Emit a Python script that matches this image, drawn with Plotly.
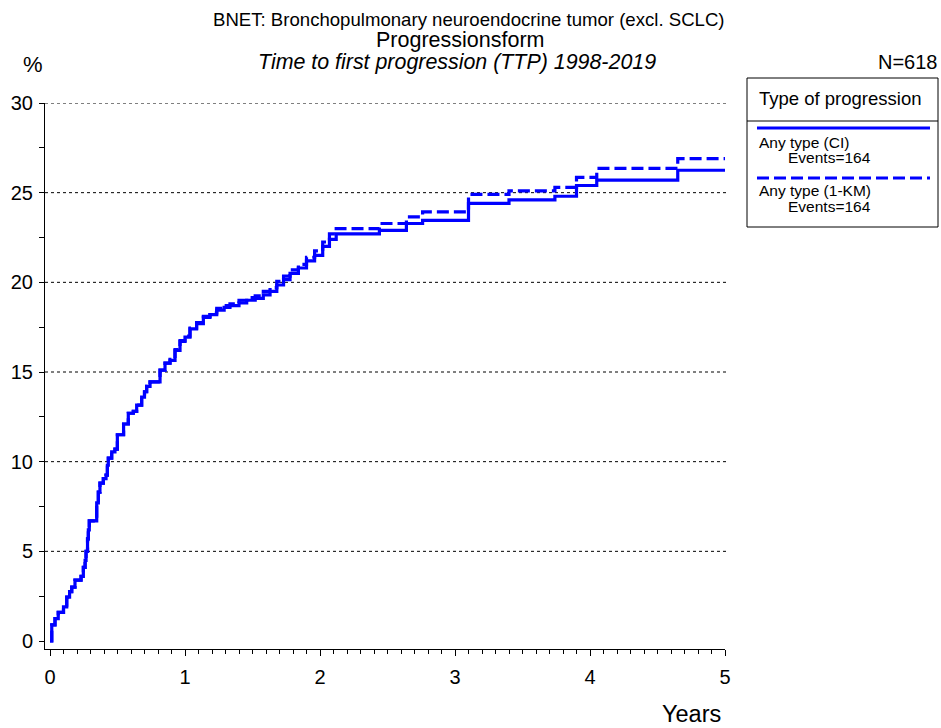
import plotly.graph_objects as go

# ---- data ----
years = [0, 0.013, 0.037, 0.061, 0.10, 0.124, 0.145, 0.161, 0.185, 0.230,
         0.247, 0.260, 0.267, 0.278, 0.284, 0.291, 0.346, 0.358, 0.370, 0.395,
         0.415, 0.425, 0.432, 0.457, 0.481, 0.499, 0.545, 0.580, 0.617, 0.642,
         0.679, 0.700, 0.716, 0.741, 0.815, 0.852, 0.889, 0.926, 0.963, 1.000,
         1.037, 1.086, 1.136, 1.185, 1.235, 1.290, 1.333, 1.400, 1.457, 1.520,
         1.580, 1.630, 1.680, 1.730, 1.778, 1.840, 1.900, 1.960, 2.020, 2.070,
         2.120, 2.440, 2.640, 2.760, 3.100, 3.400, 3.740, 3.900, 4.050, 4.650,
         5.0]
ci_pct = [0, 0.9, 1.25, 1.6, 1.9, 2.45, 2.75, 3.0, 3.4, 3.6,
          4.1, 4.5, 5.0, 5.7, 6.2, 6.7, 7.7, 8.3, 8.8, 9.05,
          9.25, 9.8, 10.2, 10.55, 10.7, 11.5, 12.1, 12.7, 12.8, 13.15,
          13.6, 13.9, 14.2, 14.45, 15.1, 15.5, 15.65, 16.2, 16.7, 16.95,
          17.4, 17.7, 18.05, 18.2, 18.45, 18.6, 18.7, 18.85, 19.0, 19.1,
          19.3, 19.5, 19.85, 20.15, 20.5, 20.8, 21.2, 21.5, 22.0, 22.4,
          22.7, 22.9, 23.28, 23.46, 24.4, 24.6, 24.8, 25.4, 25.7, 26.25,
          26.25]
km_pct = [0, 0.9, 1.25, 1.6, 1.9, 2.45, 2.75, 3.0, 3.4, 3.6,
          4.1, 4.5, 5.0, 5.7, 6.2, 6.7, 7.7, 8.3, 8.8, 9.05,
          9.25, 9.8, 10.2, 10.55, 10.7, 11.5, 12.1, 12.7, 12.8, 13.15,
          13.6, 13.9, 14.2, 14.45, 15.1, 15.5, 15.7, 16.25, 16.75, 17.0,
          17.45, 17.75, 18.1, 18.3, 18.55, 18.7, 18.8, 19.0, 19.15, 19.25,
          19.5, 19.7, 20.05, 20.35, 20.7, 21.0, 21.4, 21.75, 22.25, 22.7,
          23.0, 23.28, 23.65, 23.93, 24.9, 25.1, 25.3, 25.85, 26.35, 26.9,
          26.9]
series_names = ["Any type (CI)", "Any type (1-KM)"]
events = [164, 164]
x_ticks = [0, 1, 2, 3, 4, 5]
y_ticks = [0, 5, 10, 15, 20, 25, 30]
grid_values = [5, 10, 15, 20, 25, 30]

FONT = "Liberation Sans, Arial, sans-serif"
BLUE = "#0000FF"

W, H = 941, 728
L, R, T, B = 45, 725, 103, 649   # plot area in pixels


def px(xp):
    return (xp - L) / (R - L)


def py(yp):
    return (B - yp) / (B - T)


fig = go.Figure()
fig.add_trace(go.Scatter(x=years, y=ci_pct, mode="lines", line_shape="hv",
                         line=dict(color=BLUE, width=3.2), name=series_names[0],
                         showlegend=False))
fig.add_trace(go.Scatter(x=years, y=km_pct, mode="lines", line_shape="hv",
                         line=dict(color=BLUE, width=3.2, dash="12px,5px"),
                         name=series_names[1], showlegend=False))

shapes = []
for g in grid_values:
    shapes.append(dict(type="line", xref="paper", yref="y", x0=0, x1=px(728),
                       y0=g, y1=g, line=dict(color="black", width=1, dash="dot"),
                       layer="below"))

# legend box
shapes.append(dict(type="rect", xref="paper", yref="paper", x0=px(747), x1=px(938),
                   y0=py(227), y1=py(78), line=dict(color="black", width=1)))
shapes.append(dict(type="line", xref="paper", yref="paper", x0=px(747), x1=px(938),
                   y0=py(121), y1=py(121), line=dict(color="black", width=1)))
shapes.append(dict(type="line", xref="paper", yref="paper", x0=px(757), x1=px(930),
                   y0=py(128), y1=py(128), line=dict(color=BLUE, width=3)))
shapes.append(dict(type="line", xref="paper", yref="paper", x0=px(757), x1=px(930),
                   y0=py(178), y1=py(178), line=dict(color=BLUE, width=3, dash="12px,5px")))

ann = []


def text(s, xp, yp, size, anchor="left", italic=False):
    ann.append(dict(text=f"<i>{s}</i>" if italic else s, xref="paper", yref="paper",
                    x=px(xp), y=py(yp), xanchor=anchor, yanchor="middle",
                    showarrow=False, font=dict(family=FONT, size=size, color="black")))


text("BNET: Bronchopulmonary neuroendocrine tumor (excl. SCLC)", 469, 19, 18.6, "center")
text("Progressionsform", 460, 40, 21.5, "center")
text("Time to first progression (TTP) 1998-2019", 457, 62, 21.4, "center", italic=True)
text("%", 33, 64, 22, "center")
text("N=618", 940, 62, 20, "right")
text("Years", 691, 714, 23.5, "center")
text("Type of progression", 757, 98, 18.5, "left")
text(series_names[0], 757, 142.5, 15.5, "left")
text(f"Events={events[0]}", 786, 157.5, 15.5, "left")
text(series_names[1], 757, 190.5, 15.5, "left")
text(f"Events={events[1]}", 786, 206.5, 15.5, "left")

fig.update_layout(
    width=W, height=H,
    margin=dict(l=L, r=W - R, t=T, b=H - B, pad=0),
    paper_bgcolor="white", plot_bgcolor="white",
    font=dict(family=FONT, size=20, color="black"),
    shapes=shapes, annotations=ann,
    showlegend=False,
)
fig.update_xaxes(range=[-(50 - L) / 135.0, 5.0], tickvals=x_ticks,
                 showgrid=False, zeroline=False, showline=True, linecolor="black",
                 linewidth=1, ticks="outside", ticklen=6, tickcolor="black",
                 tickfont=dict(family=FONT, size=20), ticklabelstandoff=4,
                 minor=dict(dtick=0.1, tick0=0, ticks="outside", ticklen=4,
                            tickcolor="black", showgrid=False))
fig.update_yaxes(range=[-(B - 641) / 17.93, 30], tickvals=y_ticks,
                 showgrid=False, zeroline=False, showline=True, linecolor="black",
                 linewidth=1, ticks="outside", ticklen=5, tickcolor="black",
                 tickfont=dict(family=FONT, size=20), ticklabelstandoff=2,
                 minor=dict(dtick=2.5, tick0=0, ticks="outside", ticklen=5,
                            tickcolor="black", showgrid=False))

fig.write_html("out.html", config={"displayModeBar": False},
               post_script="document.body.style.margin='0';document.body.style.overflow='hidden';")
